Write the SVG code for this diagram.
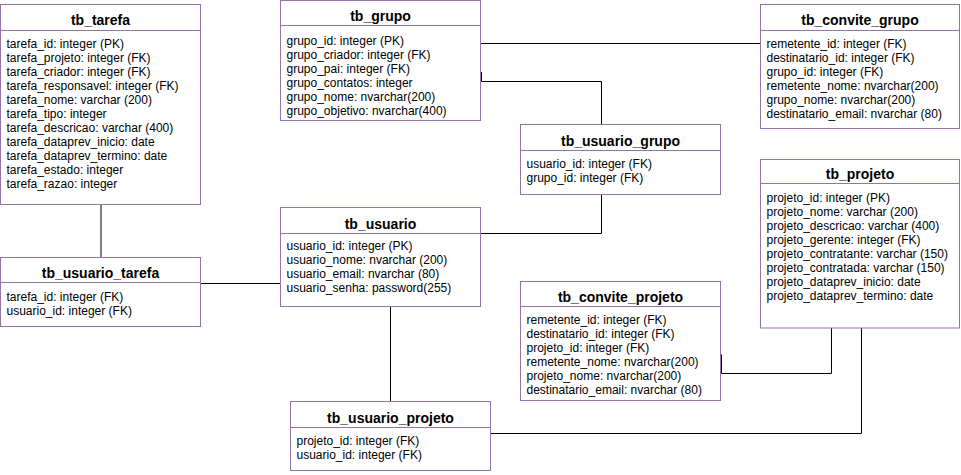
<svg xmlns="http://www.w3.org/2000/svg" width="961" height="475" viewBox="0 0 961 475">
<style>
.box{fill:#ffffff;stroke:#9673a6;stroke-width:1}
.div{stroke:#9673a6;stroke-width:1}
.t{font-family:"Liberation Sans",Arial,sans-serif;font-size:14px;font-weight:bold;fill:#000;text-anchor:middle}
.r{font-family:"Liberation Sans",Arial,sans-serif;font-size:12px;fill:#000}
.c{fill:none;stroke:#000;stroke-width:1}
</style>
<rect width="961" height="475" fill="#ffffff"/>
<g id="connectors">
<path class="c" d="M101,204.5 V257.5"/>
<path class="c" d="M200.5,283.5 H280.5"/>
<path class="c" d="M480.5,43.5 H760.5"/>
<path class="c" d="M481.5,72 V81.5 H601.5 V124.5"/>
<path class="c" d="M601.5,194.5 V233.5 H480.5"/>
<path class="c" d="M390.5,306.5 V401.5"/>
<path class="c" d="M721.5,354.5 V373.5 H831.5 V328"/>
<path class="c" d="M490.5,433.5 H861.5 V328"/>
</g>
<g id="tb_tarefa">
<rect class="box" x="0.5" y="4.5" width="200" height="200"/>
<line class="div" x1="0.5" y1="30.5" x2="200.5" y2="30.5"/>
<text class="t" x="100.5" y="25">tb_tarefa</text>
<text class="r" x="6.5" y="48">tarefa_id: integer (PK)</text>
<text class="r" x="6.5" y="62">tarefa_projeto: integer (FK)</text>
<text class="r" x="6.5" y="76">tarefa_criador: integer (FK)</text>
<text class="r" x="6.5" y="90">tarefa_responsavel: integer (FK)</text>
<text class="r" x="6.5" y="104">tarefa_nome: varchar (200)</text>
<text class="r" x="6.5" y="118">tarefa_tipo: integer</text>
<text class="r" x="6.5" y="132">tarefa_descricao: varchar (400)</text>
<text class="r" x="6.5" y="146">tarefa_dataprev_inicio: date</text>
<text class="r" x="6.5" y="160">tarefa_dataprev_termino: date</text>
<text class="r" x="6.5" y="174">tarefa_estado: integer</text>
<text class="r" x="6.5" y="188">tarefa_razao: integer</text>
</g>
<g id="tb_grupo">
<rect class="box" x="280.5" y="0.5" width="200" height="120"/>
<line class="div" x1="280.5" y1="25.5" x2="480.5" y2="25.5"/>
<text class="t" x="380.5" y="20.5">tb_grupo</text>
<text class="r" x="286.5" y="44.5">grupo_id: integer (PK)</text>
<text class="r" x="286.5" y="58.5">grupo_criador: integer (FK)</text>
<text class="r" x="286.5" y="72.5">grupo_pai: integer (FK)</text>
<text class="r" x="286.5" y="86.5">grupo_contatos: integer</text>
<text class="r" x="286.5" y="100.5">grupo_nome: nvarchar(200)</text>
<text class="r" x="286.5" y="114.5">grupo_objetivo: nvarchar(400)</text>
</g>
<g id="tb_convite_grupo">
<rect class="box" x="760.5" y="4.5" width="199" height="124"/>
<line class="div" x1="760.5" y1="30.5" x2="959.5" y2="30.5"/>
<text class="t" x="860" y="25">tb_convite_grupo</text>
<text class="r" x="766.5" y="48">remetente_id: integer (FK)</text>
<text class="r" x="766.5" y="62">destinatario_id: integer (FK)</text>
<text class="r" x="766.5" y="76">grupo_id: integer (FK)</text>
<text class="r" x="766.5" y="90">remetente_nome: nvarchar(200)</text>
<text class="r" x="766.5" y="104">grupo_nome: nvarchar(200)</text>
<text class="r" x="766.5" y="118">destinatario_email: nvarchar (80)</text>
</g>
<g id="tb_usuario_grupo">
<rect class="box" x="520.5" y="124.5" width="200" height="70"/>
<line class="div" x1="520.5" y1="150.5" x2="720.5" y2="150.5"/>
<text class="t" x="620.5" y="145.5">tb_usuario_grupo</text>
<text class="r" x="526.5" y="168">usuario_id: integer (FK)</text>
<text class="r" x="526.5" y="182">grupo_id: integer (FK)</text>
</g>
<g id="tb_projeto">
<rect class="box" x="760.5" y="159.5" width="199" height="168.5"/>
<line class="div" x1="760.5" y1="183.5" x2="959.5" y2="183.5"/>
<text class="t" x="860" y="178.5">tb_projeto</text>
<text class="r" x="766.5" y="202">projeto_id: integer (PK)</text>
<text class="r" x="766.5" y="216">projeto_nome: varchar (200)</text>
<text class="r" x="766.5" y="230">projeto_descricao: varchar (400)</text>
<text class="r" x="766.5" y="244">projeto_gerente: integer (FK)</text>
<text class="r" x="766.5" y="258">projeto_contratante: varchar (150)</text>
<text class="r" x="766.5" y="272">projeto_contratada: varchar (150)</text>
<text class="r" x="766.5" y="286">projeto_dataprev_inicio: date</text>
<text class="r" x="766.5" y="300">projeto_dataprev_termino: date</text>
</g>
<g id="tb_usuario">
<rect class="box" x="280.5" y="207.5" width="200" height="99"/>
<line class="div" x1="280.5" y1="233.5" x2="480.5" y2="233.5"/>
<text class="t" x="380.5" y="228.5">tb_usuario</text>
<text class="r" x="286.5" y="250">usuario_id: integer (PK)</text>
<text class="r" x="286.5" y="264">usuario_nome: nvarchar (200)</text>
<text class="r" x="286.5" y="278">usuario_email: nvarchar (80)</text>
<text class="r" x="286.5" y="292">usuario_senha: password(255)</text>
</g>
<g id="tb_usuario_tarefa">
<rect class="box" x="0.5" y="257.5" width="200" height="69"/>
<line class="div" x1="0.5" y1="282.5" x2="200.5" y2="282.5"/>
<text class="t" x="100.5" y="277.5">tb_usuario_tarefa</text>
<text class="r" x="6.5" y="301">tarefa_id: integer (FK)</text>
<text class="r" x="6.5" y="315">usuario_id: integer (FK)</text>
</g>
<g id="tb_convite_projeto">
<rect class="box" x="520.5" y="281.5" width="200" height="119"/>
<line class="div" x1="520.5" y1="306.5" x2="720.5" y2="306.5"/>
<text class="t" x="620.5" y="301.5">tb_convite_projeto</text>
<text class="r" x="526.5" y="324">remetente_id: integer (FK)</text>
<text class="r" x="526.5" y="338">destinatario_id: integer (FK)</text>
<text class="r" x="526.5" y="352">projeto_id: integer (FK)</text>
<text class="r" x="526.5" y="366">remetente_nome: nvarchar(200)</text>
<text class="r" x="526.5" y="380">projeto_nome: nvarchar(200)</text>
<text class="r" x="526.5" y="394">destinatario_email: nvarchar (80)</text>
</g>
<g id="tb_usuario_projeto">
<rect class="box" x="290.5" y="401.5" width="200" height="69"/>
<line class="div" x1="290.5" y1="427.5" x2="490.5" y2="427.5"/>
<text class="t" x="390.5" y="422.5">tb_usuario_projeto</text>
<text class="r" x="296.5" y="445">projeto_id: integer (FK)</text>
<text class="r" x="296.5" y="459">usuario_id: integer (FK)</text>
</g>
</svg>
